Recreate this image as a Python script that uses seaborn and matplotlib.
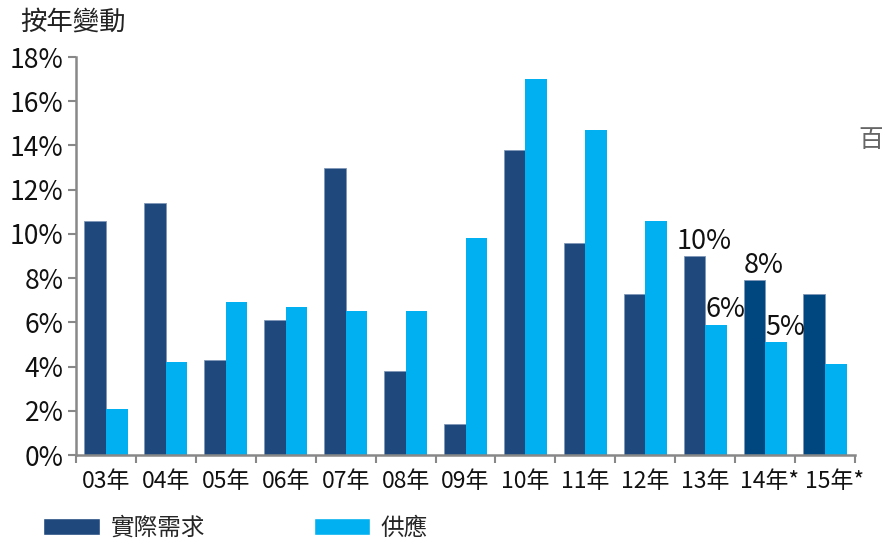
import matplotlib
matplotlib.use("Agg")
import matplotlib.pyplot as plt
import matplotlib.transforms as mtransforms
import seaborn as sns
import pandas as pd
from matplotlib.ticker import FuncFormatter, FixedLocator
from matplotlib.patches import Patch

years = ["03年", "04年", "05年", "06年", "07年", "08年", "09年", "10年", "11年", "12年", "13年", "14年*", "15年*"]
demand = [10.6, 11.4, 4.3, 6.1, 13.0, 3.8, 1.4, 13.8, 9.6, 7.3, 9.0, 7.9, 7.3]
supply = [2.1, 4.2, 6.9, 6.7, 6.5, 6.5, 9.8, 17.0, 14.7, 10.6, 5.9, 5.1, 4.1]
series_names = ["實際需求", "供應"]
labels_pts = [(10, 0, "10%"), (10, 1, "6%"), (11, 0, "8%"), (11, 1, "5%")]

sns.set_theme(style="white")
plt.rcParams["font.family"] = ["Noto Sans CJK TC", "DejaVu Sans"]

df = pd.DataFrame({
    "year": years * 2,
    "value": demand + supply,
    "series": [series_names[0]] * len(years) + [series_names[1]] * len(years),
})

fig = plt.figure(figsize=(8.82, 5.42), dpi=100)
ax = fig.add_axes([76 / 882, 1 - 455 / 542, (855 - 76) / 882, (455 - 57) / 542])

dark = "#1F497D"
light = "#00B0F0"
sns.barplot(data=df, x="year", y="value", hue="series", order=years,
            hue_order=series_names, palette=[dark, light], width=0.72,
            ax=ax, legend=False, linewidth=0, saturation=1)

dark_patches = ax.containers[0]
for i, p in enumerate(dark_patches):
    p.set_edgecolor("#7f97b8")
    p.set_linewidth(0.6)
    if i >= 11:
        p.set_facecolor("#00467F")

for ci, si, txt in labels_pts:
    p = ax.containers[si][ci]
    ax.annotate(txt, (p.get_x() + p.get_width() / 2, p.get_height()),
                xytext=(7, 1), textcoords="offset points", ha="center", va="bottom",
                fontsize=19.5, color="#111111")

ax.set_xlim(-0.5, len(years) - 0.5)
ax.set_ylim(0, 18)
ax.yaxis.set_major_locator(FixedLocator(list(range(0, 19, 2))))
ax.yaxis.set_major_formatter(FuncFormatter(lambda v, _: f"{int(v)}%"))
ax.set_xlabel("")
ax.set_ylabel("")

ax.set_xticks(range(len(years)))
ax.set_xticklabels(years)
ax.set_xticks([i - 0.5 for i in range(len(years) + 1)], minor=True)
ax.tick_params(axis="x", which="major", length=0, pad=11, labelsize=16.5, colors="#111111")
ax.tick_params(axis="x", which="minor", length=6, width=1.5, color="#888888", direction="out")
ax.tick_params(axis="y", which="major", length=6, width=1.5, color="#888888", direction="out",
               labelsize=19, pad=3, labelcolor="#111111")
ax.tick_params(axis="x", bottom=True, which="both")
ax.tick_params(axis="y", left=True)

# nudge the starred labels right a little, as in the reference
for lbl in ax.get_xticklabels():
    t = lbl.get_text()
    if t.endswith("*"):
        dx = 4 if t.startswith("14") else 10
        lbl.set_transform(lbl.get_transform() +
                          mtransforms.ScaledTranslation(dx / 100, 0, fig.dpi_scale_trans))

for s in ["top", "right"]:
    ax.spines[s].set_visible(False)
for s in ["left", "bottom"]:
    ax.spines[s].set_color("#888888")
    ax.spines[s].set_linewidth(1.8)

fig.text(20 / 882, 1 - 22 / 542, "按年變動", fontsize=19, color="#222222", va="center", ha="left")
fig.text(858 / 882, 1 - 140 / 542, "百", fontsize=18, color="#666666", va="center", ha="left")

handles = [Patch(facecolor=dark), Patch(facecolor=light)]
fig.legend(handles, series_names, loc="center left", bbox_to_anchor=(22 / 882, 1 - 528 / 542),
           ncol=2, frameon=False, fontsize=17, handlelength=2.4, handleheight=0.75,
           columnspacing=4.6, handletextpad=0.45)

fig.savefig("out.png", dpi=100)
